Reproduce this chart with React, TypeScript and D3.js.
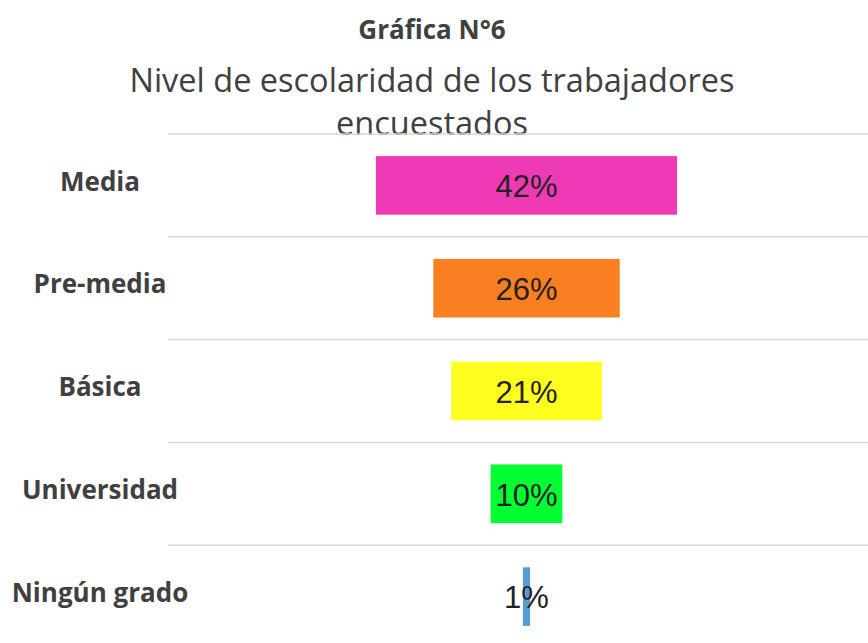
import { useMemo } from 'react'
import * as d3 from 'd3'

const WIDTH = 868
const HEIGHT = 643

const categories = ['Media', 'Pre-media', 'Básica', 'Universidad', 'Ningún grado']
const values = [42, 26, 21, 10, 1]
const colors = ['#EE3BB5', '#FA7F21', '#FFFF1F', '#00FF33', '#5B9BD5']

const TITLE = 'Gráfica N°6'
const SUBTITLE = ['Nivel de escolaridad de los trabajadores', 'encuestados']

const PLOT = { top: 134, bottom: 648, left: 168, right: 868, center: 526.5 }

export default function App() {
  // horizontal percent scale, bars are centered on PLOT.center
  const xScale = useMemo(
    () =>
      d3
        .scaleLinear()
        .domain([-50, 50])
        .range([PLOT.center - 358.5, PLOT.center + 358.5]),
    []
  )

  const yScale = useMemo(
    () =>
      d3
        .scaleBand<string>()
        .domain(categories)
        .range([PLOT.top, PLOT.bottom])
        .paddingInner(0.43)
        .paddingOuter(0.215),
    []
  )

  const step = yScale.step()
  const gridLines = categories.map((_, i) => PLOT.top + i * step)

  return (
    <svg
      width={WIDTH}
      height={HEIGHT}
      style={{ position: 'absolute', left: 0, top: 0, background: 'white' }}
    >
      <rect width="100%" height="100%" fill="white" />
      <text
        x={432}
        y={39}
        textAnchor="middle"
        style={{ fontFamily: 'Open Sans', fontWeight: 700, fontSize: '26px', fill: '#404040' }}
      >
        {TITLE}
      </text>
      {SUBTITLE.map((line, i) => (
        <text
          key={line}
          x={432}
          y={92 + i * 43}
          textAnchor="middle"
          style={{ fontFamily: 'Open Sans', fontSize: '32.5px', fill: '#404040' }}
        >
          {line}
        </text>
      ))}

      {gridLines.map((y, i) => (
        <line key={i} x1={PLOT.left} x2={PLOT.right} y1={y} y2={y} stroke="#D9D9D9" strokeWidth={1.5} />
      ))}

      {categories.map((c, i) => {
        const y = yScale(c)!
        const bw = yScale.bandwidth()
        const x0 = xScale(-values[i] / 2)
        const x1 = xScale(values[i] / 2)
        return (
          <g key={c}>
            <rect x={x0} y={y} width={x1 - x0} height={bw} fill={colors[i]} />
            <text
              x={PLOT.center}
              y={y + bw / 2}
              dy="0.38em"
              textAnchor="middle"
              style={{ fontFamily: 'Liberation Sans, Arial', fontSize: '31px', fill: '#222' }}
            >
              {values[i]}%
            </text>
            <text
              x={100}
              y={y + bw / 2 - 4}
              dy="0.35em"
              textAnchor="middle"
              style={{ fontFamily: 'Open Sans', fontWeight: 700, fontSize: '26px', fill: '#404040' }}
            >
              {c}
            </text>
          </g>
        )
      })}
    </svg>
  )
}
